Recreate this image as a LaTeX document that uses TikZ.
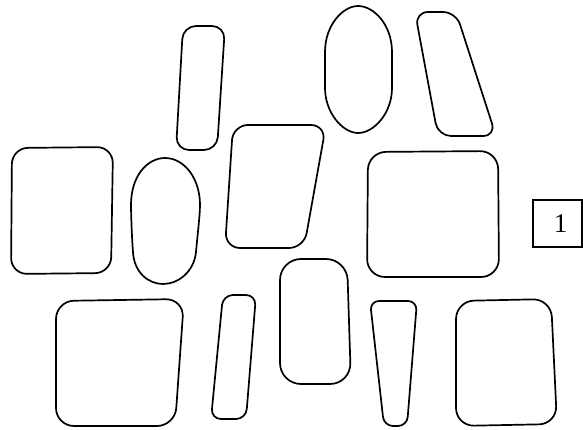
\documentclass[tikz,border=0pt]{standalone}
\usepackage{fontspec}
\setmainfont{Liberation Serif}
\begin{document}
\begin{tikzpicture}[x=1pt,y=-1pt,
  blob/.style={draw=black, line width=1.7pt, line join=round},
  numbox/.style={draw=black, line width=1.1pt, minimum width=49pt, minimum height=47pt, inner sep=0pt, font=\fontsize{27}{32}\selectfont}]
\useasboundingbox (0,0) rectangle (583,430);
% top row
\draw[blob, rounded corners=13] (183,26) -- (225,26) -- (217,150) -- (176,150) -- cycle;
\draw[blob] (325,52) .. controls (325,25) and (343,6) .. (358,6)
  .. controls (374,6) and (392,25) .. (392,52) -- (392,88)
  .. controls (392,113) and (374,133) .. (358,133)
  .. controls (343,133) and (325,113) .. (325,88) -- cycle;
\draw[blob, rounded corners=13] (415,12) -- (456,12) -- (496,136) -- (438,136) -- cycle;
% middle row
\draw[blob, rounded corners=16] (12,148) -- (113,147) -- (111,273) -- (11,274) -- cycle;
\draw[blob] (131,205) .. controls (131,175) and (148,158) .. (165,158)
  .. controls (184,158) and (200,178) .. (200,205)
  .. controls (200,215) and (197,240) .. (196,252)
  .. controls (194,272) and (178,284) .. (163,284)
  .. controls (148,284) and (134,272) .. (133,252)
  .. controls (132,240) and (131,215) .. (131,205) -- cycle;
\draw[blob, rounded corners=15] (233,125) -- (326,125) -- (304,248) -- (225,248) -- cycle;
\draw[blob, rounded corners=18] (368,152) -- (498,151) -- (499,277) -- (367,277) -- cycle;
\node[numbox] (one) at (557.5,223.5) {\raisebox{-3.5pt}{\hspace*{6pt}1}};
% bottom row
\draw[blob, rounded corners=18] (56,301) -- (184,299) -- (175,426) -- (56,426) -- cycle;
\draw[blob, rounded corners=10] (223,295) -- (256,295) -- (246,419) -- (211,419) -- cycle;
\draw[blob, rounded corners=21] (280,259) -- (347,259) -- (351,384) -- (280,384) -- cycle;
\draw[blob, rounded corners=9] (370,301) -- (417,301) -- (407,426) -- (384,426) -- cycle;
\draw[blob, rounded corners=18] (456,301) -- (551,299) -- (557,424) -- (456,426) -- cycle;
\end{tikzpicture}
\end{document}
